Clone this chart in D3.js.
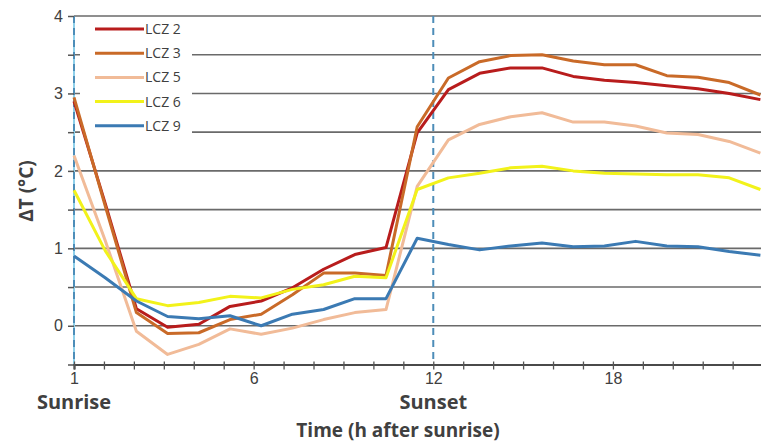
<!DOCTYPE html>
<html>
<head>
<meta charset="utf-8">
<script src="https://cdn.jsdelivr.net/npm/d3@7"></script>
<style>
  body { margin: 0; background: #fff; }
  svg { display: block; font-family: "Open Sans", sans-serif; }
</style>
</head>
<body>
<svg width="761" height="445"></svg>
<script>
// series: hourly delta T after sunrise (23 points visible)
var seriesNames = ["LCZ 2", "LCZ 3", "LCZ 5", "LCZ 6", "LCZ 9"];
var seriesColors = ["#b81c1c", "#c96a28", "#f1bb98", "#f2f21a", "#3b7ab3"];

var lcz2 = [2.90, 1.58, 0.22, -0.02, 0.02, 0.25, 0.32, 0.49, 0.73, 0.92, 1.01, 2.49, 3.05, 3.26, 3.33, 3.33, 3.22, 3.17, 3.14, 3.10, 3.06, 3.00, 2.92];
var lcz3 = [2.95, 1.55, 0.17, -0.10, -0.09, 0.08, 0.15, 0.40, 0.68, 0.68, 0.65, 2.57, 3.20, 3.41, 3.49, 3.50, 3.42, 3.37, 3.37, 3.23, 3.21, 3.14, 2.98];
var lcz5 = [2.20, 1.10, -0.07, -0.37, -0.24, -0.04, -0.11, -0.03, 0.08, 0.17, 0.21, 1.80, 2.40, 2.60, 2.70, 2.75, 2.63, 2.63, 2.58, 2.49, 2.47, 2.38, 2.23];
var lcz6 = [1.75, 0.97, 0.35, 0.26, 0.30, 0.38, 0.36, 0.47, 0.53, 0.64, 0.62, 1.76, 1.91, 1.97, 2.04, 2.06, 2.00, 1.97, 1.96, 1.95, 1.95, 1.91, 1.76];
var lcz9 = [0.90, 0.62, 0.32, 0.12, 0.09, 0.13, 0.00, 0.15, 0.21, 0.35, 0.35, 1.13, 1.05, 0.98, 1.03, 1.07, 1.02, 1.03, 1.09, 1.03, 1.02, 0.96, 0.91];
var allSeries = [lcz2, lcz3, lcz5, lcz6, lcz9];

// axis ticks (tick index -> label)
var xTickLabels = {0: "1", 6: "6", 12: "12", 18: "18"};
var xSubLabels = [{at: 0, text: "Sunrise"}, {at: 12, text: "Sunset"}];
var dashedAt = [0, 12];

var svg = d3.select("svg");
var plotLeft = 74, plotTop = 16, plotBottom = 364.5;

var y = d3.scaleLinear().domain([-0.5, 4]).range([plotBottom, plotTop]);
var xTick = d3.scaleLinear().domain([0, 23]).range([plotLeft, 762.6]);
var xData = d3.scaleLinear().domain([0, 22]).range([plotLeft, 760.4]);

var grid = svg.append("g");
grid.selectAll("line").data(d3.range(0, 4.01, 0.5)).enter().append("line")
  .attr("x1", plotLeft).attr("x2", 761)
  .attr("y1", function(d) { return y(d); }).attr("y2", function(d) { return y(d); })
  .attr("stroke", "#6a6a6a").attr("stroke-width", 1.6);

// legend box covers gridlines
var legend = svg.append("g");
legend.append("rect").attr("x", 80).attr("y", 19).attr("width", 112).attr("height", 122).attr("fill", "#fff");

// sunrise / sunset markers
svg.append("line").attr("x1", xTick(0)).attr("x2", xTick(0)).attr("y1", plotTop).attr("y2", plotBottom)
  .attr("stroke", "#8fd0ea").attr("stroke-width", 2);
svg.selectAll(".mark").data(dashedAt).enter().append("line")
  .attr("x1", function(d) { return xTick(d); }).attr("x2", function(d) { return xTick(d); })
  .attr("y1", plotTop).attr("y2", plotBottom)
  .attr("stroke", "#4d8db8").attr("stroke-width", 2).attr("stroke-dasharray", "7,5");

var line = d3.line().x(function(d, i) { return xData(i); }).y(function(d) { return y(d); });

svg.append("g").selectAll("path").data(allSeries).enter().append("path")
  .attr("d", line)
  .attr("fill", "none")
  .attr("stroke", function(d, i) { return seriesColors[i]; })
  .attr("stroke-width", 3)
  .attr("stroke-linejoin", "round");

// axes
var yAxis = svg.append("g").attr("transform", "translate(" + plotLeft + ",0)")
  .call(d3.axisLeft(y).tickValues(d3.range(-0.5, 4.01, 0.5)).tickSize(6).tickPadding(5)
    .tickFormat(function(d) { return d % 1 === 0 ? d3.format("d")(d) : ""; }));
yAxis.select(".domain").remove();
yAxis.selectAll(".tick line").attr("stroke", "#555").attr("stroke-width", 1.5);
yAxis.selectAll("text").attr("font-size", 16).attr("fill", "#404040");

var xAxis = svg.append("g").attr("transform", "translate(0," + plotBottom + ")")
  .call(d3.axisBottom(xTick).tickValues(d3.range(0, 24)).tickSize(5).tickPadding(3)
    .tickFormat(function(d) { return xTickLabels[d] || ""; }));
xAxis.select(".domain").attr("stroke", "#4a4a4a").attr("stroke-width", 2.2);
xAxis.selectAll(".tick line").attr("stroke", "#555").attr("stroke-width", 1.3).attr("y1", -3);
xAxis.selectAll("text").attr("font-size", 16).attr("fill", "#404040");

svg.selectAll(".sub").data(xSubLabels).enter().append("text")
  .attr("x", function(d) { return xTick(d.at); }).attr("y", 409)
  .attr("text-anchor", "middle").attr("font-size", 20).attr("font-weight", "bold").attr("fill", "#404040")
  .text(function(d) { return d.text; });

svg.append("text").attr("x", 398).attr("y", 437).attr("text-anchor", "middle")
  .attr("font-size", 19).attr("font-weight", "bold").attr("fill", "#404040")
  .text("Time (h after sunrise)");

svg.append("text").attr("transform", "translate(33,191) rotate(-90)").attr("text-anchor", "middle")
  .attr("font-size", 19).attr("font-weight", "bold").attr("fill", "#404040")
  .text("ΔT (°C)");

// legend entries
var items = legend.selectAll(".item").data(seriesNames).enter().append("g")
  .attr("transform", function(d, i) { return "translate(0," + (29 + i * 24.2) + ")"; });
items.append("line").attr("x1", 95).attr("x2", 144)
  .attr("stroke", function(d, i) { return seriesColors[i]; }).attr("stroke-width", 3);
items.append("text").attr("x", 145).attr("dy", "0.35em").attr("font-size", 14)
  .attr("font-family", "'Liberation Sans Narrow', 'Open Sans', sans-serif").attr("fill", "#404040")
  .text(function(d) { return d; });
</script>
</body>
</html>
